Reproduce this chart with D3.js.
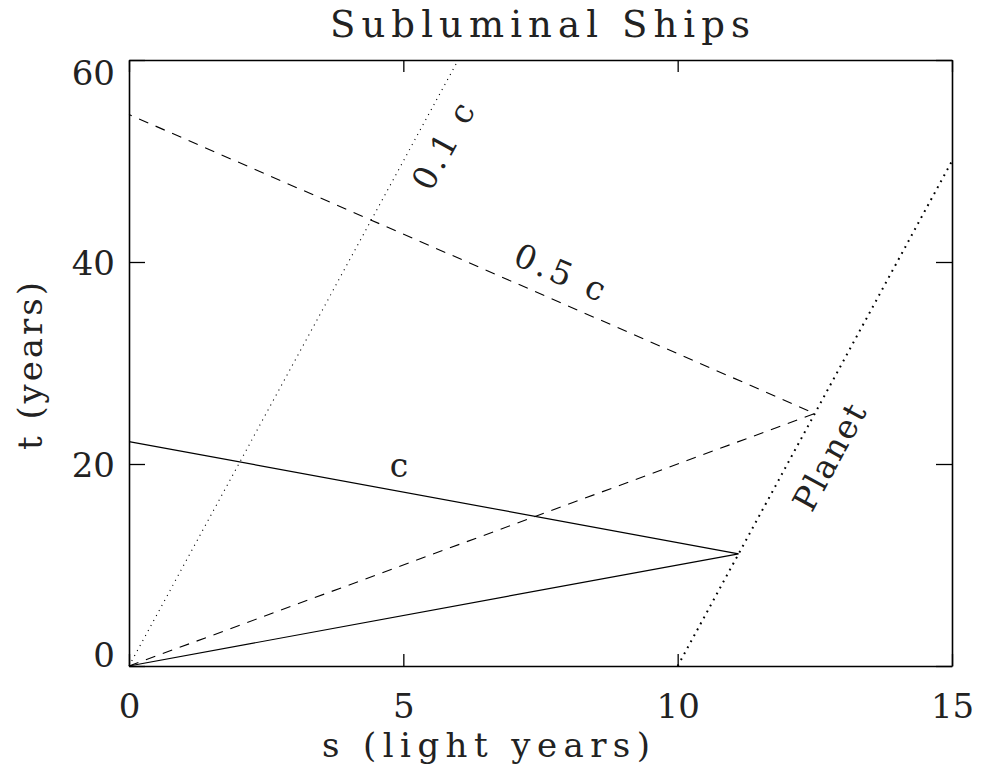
<!DOCTYPE html>
<html>
<head>
<meta charset="utf-8">
<script src="https://cdn.jsdelivr.net/npm/d3@7"></script>
<style>
	body { margin: 0; background: #fff; }
</style>
</head>
<body>
<div id="chart"></div>
<script>
// Data (s in light years, t in years)
const lightS = [0, 11.11, 0]
const lightT = [0, 11.11, 22.22]
const halfS = [0, 12.5, 0]
const halfT = [0, 25, 54.6]
const tenthS = [0, 6]
const tenthT = [0, 60]
const planetS = [10, 15]
const planetT = [0, 50]

const xTicks = [0, 5, 10, 15]
const yTicks = [0, 20, 40, 60]

// inline labels: text and centre position in data units
const labelText = ['0.1 c', '0.5 c', 'c', 'Planet']
const labelS = [5.72, 7.86, 4.92, 12.76]
const labelT = [51.5, 39.0, 19.5, 20.7]

const FONT = '"DejaVu Serif", "Liberation Serif", serif'

function draw() {
	let dimensions = {
		width: 981,
		height: 777,
		margin: { top: 60, bottom: 111, left: 129, right: 29 }
	}
	dimensions.ctrWidth = dimensions.width - dimensions.margin.left - dimensions.margin.right
	dimensions.ctrHeight = dimensions.height - dimensions.margin.top - dimensions.margin.bottom

	const svg = d3.select('#chart')
		.append('svg')
		.attr('width', dimensions.width)
		.attr('height', dimensions.height)
		.attr('font-family', FONT)

	const ctr = svg.append('g')
		.attr('transform', `translate(${dimensions.margin.left}, ${dimensions.margin.top})`)

	// Scales
	const xScale = d3.scaleLinear()
		.domain([0, 15])
		.range([0, dimensions.ctrWidth])

	const yScale = d3.scaleLinear()
		.domain([0, 60])
		.range([dimensions.ctrHeight, 0])

	const toPts = (s, t) => s.map((v, i) => [v, t[i]])
	const line = d3.line()
		.x(d => xScale(d[0]))
		.y(d => yScale(d[1]))

	const series = [
		{ pts: toPts(tenthS, tenthT), width: 1.1, dash: '1.1,4.6' },
		{ pts: toPts(planetS, planetT), width: 2, dash: '1.8,5' },
		{ pts: toPts(halfS, halfT), width: 1.1, dash: '10,8' },
		{ pts: toPts(lightS, lightT), width: 1.2, dash: null }
	]

	ctr.selectAll('path.series')
		.data(series)
		.join('path')
		.attr('class', 'series')
		.attr('d', d => line(d.pts))
		.attr('fill', 'none')
		.attr('stroke', '#000')
		.attr('stroke-width', d => d.width)
		.attr('stroke-dasharray', d => d.dash)

	// Axes: a box with inward ticks on all four sides
	const tickFont = 34

	const xAxis = d3.axisBottom(xScale).tickValues(xTicks)
		.tickSizeInner(-12).tickSizeOuter(0).tickPadding(28).tickFormat(d3.format('d'))
	ctr.append('g')
		.attr('transform', `translate(0, ${dimensions.ctrHeight})`)
		.call(xAxis)

	const xTop = d3.axisTop(xScale).tickValues(xTicks)
		.tickSizeInner(-12).tickSizeOuter(0).tickFormat('')
	ctr.append('g').call(xTop)

	const yAxis = d3.axisLeft(yScale).tickValues(yTicks)
		.tickSizeInner(-16).tickSizeOuter(0).tickPadding(14).tickFormat(d3.format('d'))
	const yAxisG = ctr.append('g').call(yAxis)

	const yRight = d3.axisRight(yScale).tickValues(yTicks)
		.tickSizeInner(-16).tickSizeOuter(0).tickFormat('')
	ctr.append('g')
		.attr('transform', `translate(${dimensions.ctrWidth}, 0)`)
		.call(yRight)

	ctr.selectAll('g').attr('font-family', FONT)
	ctr.selectAll('.domain').attr('stroke', '#000').attr('stroke-width', 1.6)
	ctr.selectAll('.tick line').attr('stroke', '#000').attr('stroke-width', 1.3)
	ctr.selectAll('.tick text')
		.attr('font-size', tickFont)
		.attr('fill', '#222')

	// lowest y label sits on its tick, highest hangs below it
	yAxisG.selectAll('.tick text')
		.attr('dy', d => d === 0 ? '0em' : d === 60 ? '0.72em' : '0.36em')

	// Inline labels, rotated along the line they name
	const angleOf = pts => {
		const dx = xScale(pts[1][0]) - xScale(pts[0][0])
		const dy = yScale(pts[1][1]) - yScale(pts[0][1])
		return Math.atan2(dy, dx) * 180 / Math.PI
	}
	const labelAngle = [
		angleOf(series[0].pts),
		angleOf([series[2].pts[2], series[2].pts[1]]),
		0,
		angleOf(series[1].pts)
	]
	const labelWidth = [94, 96, null, 116]

	ctr.selectAll('text.label')
		.data(labelText)
		.join('text')
		.attr('class', 'label')
		.attr('text-anchor', 'middle')
		.attr('dy', (d, i) => i === 2 ? '0.25em' : '0.36em')
		.attr('font-size', 33)
		.attr('fill', '#222')
		.attr('textLength', (d, i) => labelWidth[i])
		.attr('lengthAdjust', 'spacing')
		.attr('transform', (d, i) =>
			`translate(${xScale(labelS[i])}, ${yScale(labelT[i])}) rotate(${labelAngle[i]})`)
		.text(d => d)

	// Title and axis titles
	svg.append('text')
		.attr('x', 540)
		.attr('y', 37)
		.attr('text-anchor', 'middle')
		.attr('font-size', 37)
		.attr('fill', '#222')
		.attr('textLength', 420)
		.attr('lengthAdjust', 'spacing')
		.text('Subluminal Ships')

	svg.append('text')
		.attr('x', 322)
		.attr('y', 757)
		.attr('font-size', 34)
		.attr('fill', '#222')
		.attr('textLength', 328)
		.attr('lengthAdjust', 'spacing')
		.text('s (light years)')

	svg.append('text')
		.attr('transform', 'translate(42, 366) rotate(-90)')
		.attr('text-anchor', 'middle')
		.attr('font-size', 34)
		.attr('fill', '#222')
		.attr('textLength', 168)
		.attr('lengthAdjust', 'spacing')
		.text('t (years)')
}

draw()
</script>
</body>
</html>
